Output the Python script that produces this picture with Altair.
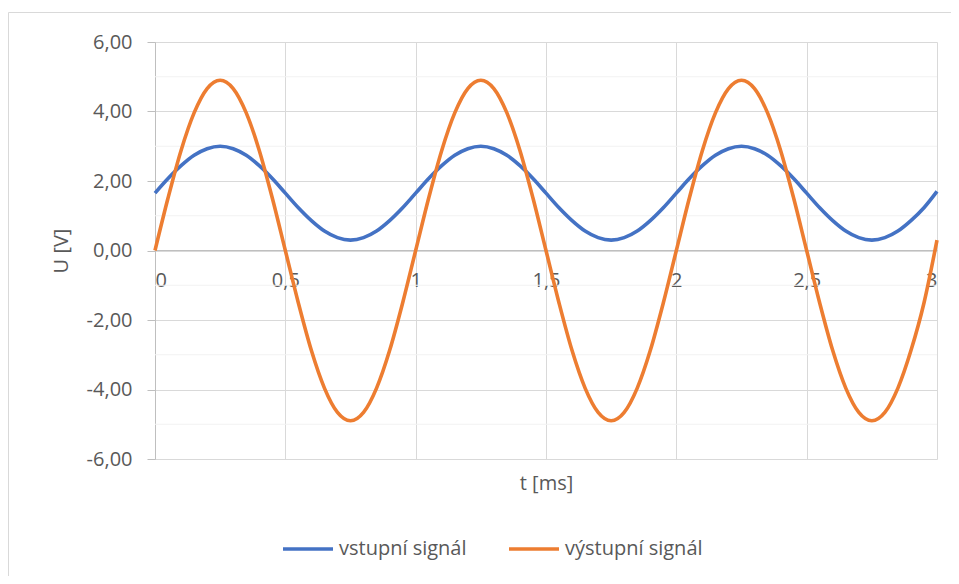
import altair as alt
import pandas as pd

# time axis [ms]
t = [round(i * 0.05, 2) for i in range(61)]

vstup_period = [1.65, 2.07, 2.44, 2.74, 2.93, 3.00, 2.93, 2.74, 2.44, 2.07,
                1.65, 1.23, 0.86, 0.56, 0.37, 0.30, 0.37, 0.56, 0.86, 1.23]
vystup_period = [0.00, 1.51, 2.88, 3.96, 4.66, 4.90, 4.66, 3.96, 2.88, 1.51,
                 0.00, -1.51, -2.88, -3.96, -4.66, -4.90, -4.66, -3.96, -2.88, -1.51]

vstup = vstup_period * 3 + [1.70]
vystup = vystup_period * 3 + [0.30]

series_names = ["vstupní signál", "výstupní signál"]
colors = ["#4472C4", "#ED7D31"]
y_major = [-6, -4, -2, 0, 2, 4, 6]
y_minor = [-5, -3, -1, 1, 3, 5]
x_ticks = [0, 0.5, 1, 1.5, 2, 2.5, 3]

df = pd.DataFrame({
    "t": t * 2,
    "U": vstup + vystup,
    "series": [series_names[0]] * len(t) + [series_names[1]] * len(t),
})
minor_df = pd.DataFrame({"v": y_minor})

FONT = "Open Sans"
GREY = "#595959"

W, H = 782, 417

border = alt.Chart(pd.DataFrame({"a": [0]})).mark_rect(
    filled=False, stroke="#d9d9d9", strokeWidth=1
).encode(
    x=alt.value(-147 + 0.5), x2=alt.value(W + 60),
    y=alt.value(-30 + 0.5), y2=alt.value(H + 200),
)

minor = alt.Chart(minor_df).mark_rule(color="#f2f2f2", strokeWidth=1).encode(
    y=alt.Y("v:Q", scale=alt.Scale(domain=[-6, 6], nice=False, zero=False))
)

lines = alt.Chart(df).mark_line(strokeWidth=3.6, interpolate="monotone").encode(
    x=alt.X(
        "t:Q",
        scale=alt.Scale(domain=[0, 3], nice=False, zero=False),
        axis=alt.Axis(
            values=x_ticks,
            title="t [ms]",
            offset=-209,
            ticks=False,
            domainColor="#bfbfbf",
            gridColor="#d9d9d9",
            labelExpr="replace(toString(datum.value), '.', ',')",
            labelFont=FONT, labelFontSize=20, labelColor=GREY,
            labelPadding=20, labelBaseline="top",
            titleFont=FONT, titleFontSize=20, titleColor=GREY,
            titleFontWeight="normal",
            titleY=233, titleBaseline="middle",
        ),
    ),
    y=alt.Y(
        "U:Q",
        scale=alt.Scale(domain=[-6, 6], nice=False, zero=False),
        axis=alt.Axis(
            values=y_major,
            title="U [V]",
            tickSize=8,
            tickColor="#bfbfbf",
            domainColor="#bfbfbf",
            gridColor="#d9d9d9",
            labelExpr="(datum.value < 0 ? '-' : '') + replace(format(abs(datum.value), '.2f'), '.', ',')",
            labelFont=FONT, labelFontSize=20, labelColor=GREY,
            labelPadding=15,
            titleFont=FONT, titleFontSize=20, titleColor=GREY,
            titleFontWeight="normal",
            titlePadding=15,
        ),
    ),
    color=alt.Color(
        "series:N",
        scale=alt.Scale(domain=series_names, range=colors),
        legend=alt.Legend(
            title=None,
            orient="none",
            legendX=126,
            legendY=480,
            direction="horizontal",
            symbolType="stroke",
            symbolSize=2500,
            symbolStrokeWidth=3.6,
            labelFont=FONT, labelFontSize=20, labelColor=GREY,
            labelOffset=4,
            columnPadding=34,
        ),
    ),
)

chart = alt.layer(border, minor, lines).properties(
    width=W, height=H,
    autosize=alt.AutoSizeParams(type="none"),
    padding={"left": 147, "top": 34, "right": 14, "bottom": 117},
).configure_view(stroke=None)

chart.save("out.html", embed_options={"renderer": "svg", "actions": False})
